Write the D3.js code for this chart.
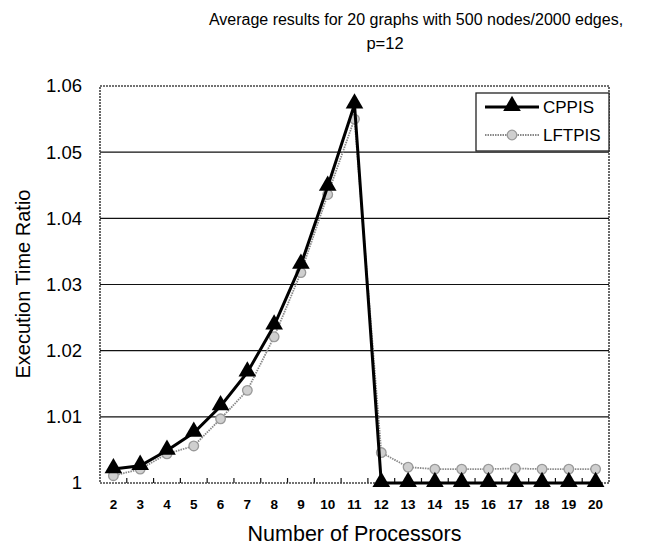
<!DOCTYPE html>
<html>
<head>
<meta charset="utf-8">
<script src="https://cdn.jsdelivr.net/npm/d3@7"></script>
<style>
  html, body { margin: 0; padding: 0; background: #fff; }
  svg { display: block; font-family: "Liberation Sans", Arial, sans-serif; }
</style>
</head>
<body>
<svg id="chart" width="653" height="547"></svg>
<script>
const titleLines = ["Average results for 20 graphs with 500 nodes/2000 edges,", "p=12"];
const xTitle = "Number of Processors";
const yTitle = "Execution Time Ratio";
const processors = ["2","3","4","5","6","7","8","9","10","11","12","13","14","15","16","17","18","19","20"];
const cppis  = [1.0021, 1.0026, 1.0049, 1.0076, 1.0116, 1.0167, 1.0238, 1.0330, 1.0448, 1.0572, 1.0, 1.0, 1.0, 1.0, 1.0, 1.0, 1.0, 1.0, 1.0];
const lftpis = [1.0011, 1.0021, 1.0044, 1.0056, 1.0097, 1.0140, 1.0221, 1.0318, 1.0436, 1.0550, 1.0046, 1.0024, 1.0021, 1.0021, 1.0021, 1.0022, 1.0021, 1.0021, 1.0021];
const yTicks = [1.00, 1.01, 1.02, 1.03, 1.04, 1.05, 1.06];
const seriesNames = ["CPPIS", "LFTPIS"];

const svg = d3.select("#chart");
const plot = {left: 100, top: 86, right: 609, bottom: 483};

const x = d3.scaleBand().domain(processors).range([plot.left, plot.right]).padding(0);
const y = d3.scaleLinear().domain([1.0, 1.06]).range([plot.bottom, plot.top]);

// Title
svg.append("text")
  .attr("x", 416).attr("y", 25)
  .attr("text-anchor", "middle")
  .attr("font-size", 16)
  .text(titleLines[0]);
svg.append("text")
  .attr("x", 385).attr("y", 49)
  .attr("text-anchor", "middle")
  .attr("font-size", 16.5)
  .text(titleLines[1]);

// Gridlines
svg.append("g")
  .selectAll("line")
  .data(yTicks.filter(d => d > 1.0 && d < 1.06))
  .join("line")
  .attr("x1", plot.left).attr("x2", plot.right)
  .attr("y1", d => y(d)).attr("y2", d => y(d))
  .attr("stroke", "#111").attr("stroke-width", 1.2);

// Y axis labels
const yAxis = d3.axisLeft(y).tickValues(yTicks).tickSize(0).tickPadding(18)
  .tickFormat(d => d3.format("~g")(+d.toFixed(2)));
const yg = svg.append("g").attr("transform", `translate(${plot.left},0)`).call(yAxis);
yg.select(".domain").remove();
yg.selectAll("text").attr("font-size", 18.5).attr("fill", "#000")
  .attr("font-family", "'Liberation Sans', Arial, sans-serif");

// X axis
const xAxis = d3.axisBottom(x).tickSize(0).tickPadding(16);
const xg = svg.append("g").attr("transform", `translate(0,${plot.bottom})`).call(xAxis);
xg.select(".domain").remove();
xg.selectAll("text").attr("font-size", 13.5).attr("font-weight", "bold").attr("fill", "#000")
  .attr("font-family", "'Liberation Sans', Arial, sans-serif");

// Inward tick marks at category boundaries
svg.append("g")
  .selectAll("line")
  .data(processors.slice(1))
  .join("line")
  .attr("x1", d => x(d)).attr("x2", d => x(d))
  .attr("y1", plot.bottom).attr("y2", plot.bottom - 5)
  .attr("stroke", "#111").attr("stroke-width", 1.2);

// Plot border
svg.append("rect")
  .attr("x", plot.left).attr("y", plot.top)
  .attr("width", plot.right - plot.left).attr("height", plot.bottom - plot.top)
  .attr("fill", "none").attr("stroke", "#444").attr("stroke-width", 1.6)
  .attr("stroke-dasharray", "2,1");

// Axis titles
svg.append("text")
  .attr("transform", `translate(30,284) rotate(-90)`)
  .attr("text-anchor", "middle")
  .attr("font-size", 20)
  .text(yTitle);
svg.append("text")
  .attr("x", (plot.left + plot.right) / 2).attr("y", 541)
  .attr("text-anchor", "middle")
  .attr("font-size", 21.5)
  .text(xTitle);

const cx = d => x(d) + x.bandwidth() / 2;
const line = d3.line().x(d => cx(d.p)).y(d => y(d.v));

const lftData = processors.map((p, i) => ({p, v: lftpis[i]}));
const cppData = processors.map((p, i) => ({p, v: cppis[i]}));

const tri = d3.symbol().type(d3.symbolTriangle).size(135);

// LFTPIS
svg.append("path").datum(lftData).attr("d", line)
  .attr("fill", "none").attr("stroke", "#888").attr("stroke-width", 1.8)
  .attr("stroke-dasharray", "1.5,1");
svg.append("g").selectAll("circle").data(lftData).join("circle")
  .attr("cx", d => cx(d.p)).attr("cy", d => y(d.v)).attr("r", 4.8)
  .attr("fill", "#cfcfcf").attr("stroke", "#999").attr("stroke-width", 1.3);

// CPPIS
svg.append("path").datum(cppData).attr("d", line)
  .attr("fill", "none").attr("stroke", "#000").attr("stroke-width", 3);
svg.append("g").selectAll("path").data(cppData).join("path")
  .attr("transform", d => `translate(${cx(d.p)},${y(d.v) - 1})`)
  .attr("d", tri).attr("fill", "#000");

// Legend
const lg = svg.append("g");
lg.append("rect").attr("x", 476).attr("y", 93).attr("width", 133).attr("height", 58)
  .attr("fill", "#fff").attr("stroke", "#222").attr("stroke-width", 1.3);
// CPPIS entry
lg.append("line").attr("x1", 485).attr("x2", 539).attr("y1", 107).attr("y2", 107)
  .attr("stroke", "#000").attr("stroke-width", 3);
lg.append("path").attr("transform", "translate(512,106)").attr("d", tri).attr("fill", "#000");
lg.append("text").attr("x", 543).attr("y", 113).attr("font-size", 17).text(seriesNames[0]);
// LFTPIS entry
lg.append("line").attr("x1", 485).attr("x2", 539).attr("y1", 135).attr("y2", 135)
  .attr("stroke", "#888").attr("stroke-width", 1.8).attr("stroke-dasharray", "1.5,1");
lg.append("circle").attr("cx", 512).attr("cy", 135).attr("r", 4.8)
  .attr("fill", "#cfcfcf").attr("stroke", "#999").attr("stroke-width", 1.3);
lg.append("text").attr("x", 543).attr("y", 141).attr("font-size", 17).text(seriesNames[1]);
</script>
</body>
</html>
